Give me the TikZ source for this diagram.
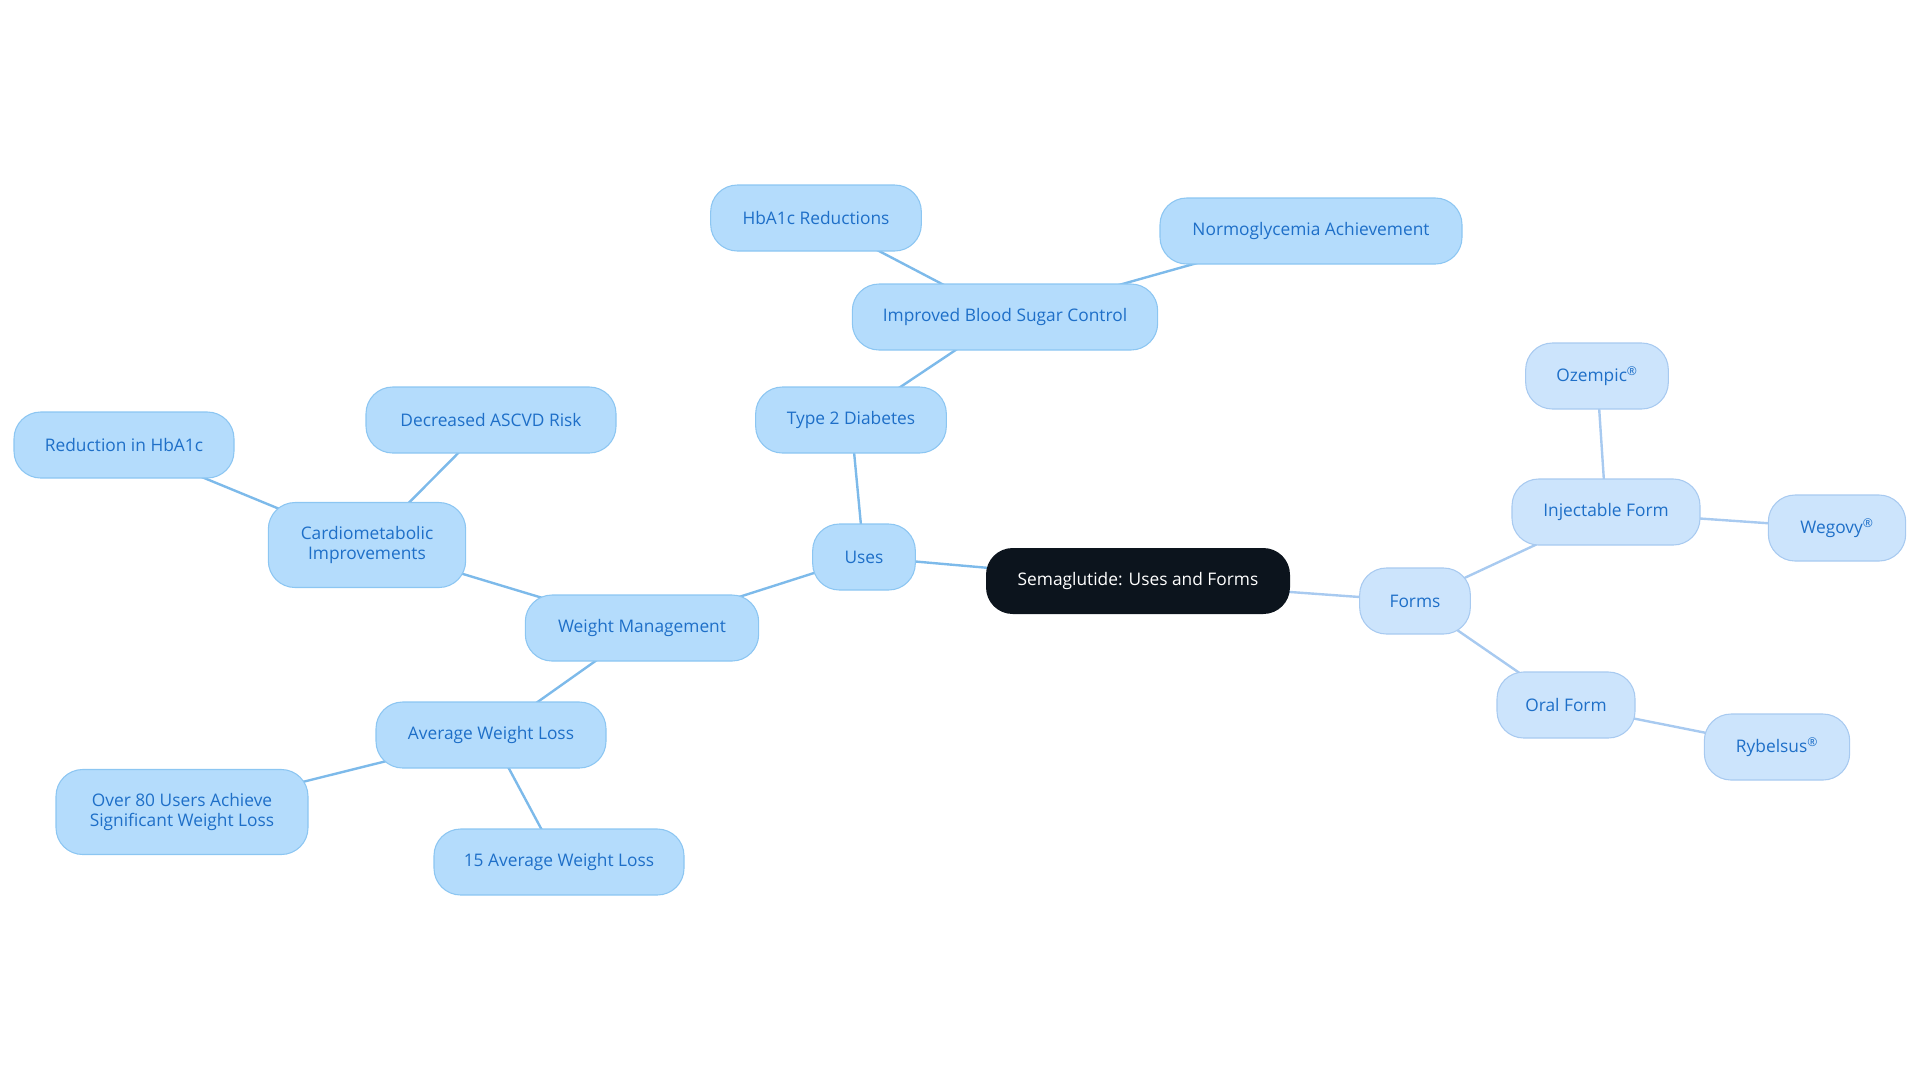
\documentclass[tikz,border=0pt]{standalone}
\usepackage{fontspec}
\setmainfont{Open Sans}
\usetikzlibrary{backgrounds}

\definecolor{rootblack}{HTML}{0C141D}
\definecolor{usefill}{HTML}{B4DCFC}
\definecolor{usedraw}{HTML}{8CC6F2}
\definecolor{useline}{HTML}{7DBAEA}
\definecolor{formfill}{HTML}{CCE4FC}
\definecolor{formdraw}{HTML}{A8CAF0}
\definecolor{txtblue}{HTML}{1E6FC8}

\tikzset{
	base/.style={rectangle, rounded corners=20pt, minimum height=49.5pt, inner sep=0pt,
		align=center, text=txtblue, font=\fontsize{13}{15}\selectfont},
	rootnode/.style={base, fill=rootblack, text=white},
	usenode/.style={base, fill=usefill, draw=usedraw, line width=0.8pt},
	formnode/.style={base, fill=formfill, draw=formdraw, line width=0.8pt},
	tall/.style={minimum height=63.75pt},
	useedge/.style={draw=useline, line width=1.8pt},
	formedge/.style={draw=formdraw, line width=1.8pt}
}

\begin{document}
\begin{tikzpicture}[x=0.75pt, y=-0.75pt]
	\useasboundingbox (0,0) rectangle (1920,1083);
	% centre
	\node[rootnode, minimum width=228pt] (root) at (1138,581) {Semaglutide: Uses and Forms};
	% uses branch
	\node[usenode, minimum width=77pt] (uses) at (864,557) {Uses};
	\node[usenode, minimum width=143pt] (diab) at (851,420) {Type 2 Diabetes};
	\node[usenode, minimum width=229pt] (sugar) at (1005,317) {Improved Blood Sugar Control};
	\node[usenode, minimum width=158pt] (hbared) at (816,218) {HbA1c Reductions};
	\node[usenode, minimum width=226.5pt] (normo) at (1311,231) {Normoglycemia Achievement};
	\node[usenode, minimum width=175pt] (weight) at (642,628) {Weight Management};
	\node[usenode, tall, minimum width=148pt] (cardio) at (367,545) {Cardiometabolic\\Improvements};
	\node[usenode, minimum width=187.5pt] (ascvd) at (491,420) {Decreased ASCVD Risk};
	\node[usenode, minimum width=165pt] (hbaone) at (124,445) {Reduction in HbA1c};
	\node[usenode, minimum width=172.5pt] (avg) at (491,735) {Average Weight Loss};
	\node[usenode, tall, minimum width=189pt] (users) at (182,812) {Over 80 Users Achieve\\Significant Weight Loss};
	\node[usenode, minimum width=187.5pt] (fifteen) at (559,862) {15 Average Weight Loss};
	% forms branch
	\node[formnode, minimum width=83pt] (forms) at (1415,601) {Forms};
	\node[formnode, minimum width=141pt] (inject) at (1606,512) {Injectable Form};
	\node[formnode, minimum width=107pt] (ozempic) at (1597,376) {Ozempic\textsuperscript{®}};
	\node[formnode, minimum width=103pt] (wegovy) at (1837,528) {Wegovy\textsuperscript{®}};
	\node[formnode, minimum width=103.5pt] (oral) at (1566,705) {Oral Form};
	\node[formnode, minimum width=109pt] (rybelsus) at (1777,747) {Rybelsus\textsuperscript{®}};
	% connectors behind the nodes
	\begin{pgfonlayer}{background}
		\foreach \a/\b in {root/uses, uses/diab, diab/sugar, sugar/hbared, sugar/normo,
			uses/weight, weight/cardio, cardio/ascvd, cardio/hbaone,
			weight/avg, avg/users, avg/fifteen}
		{
			\draw[useedge] (\a.center) -- (\b.center);
		}
		\foreach \a/\b in {root/forms, forms/inject, inject/ozempic, inject/wegovy,
			forms/oral, oral/rybelsus}
		{
			\draw[formedge] (\a.center) -- (\b.center);
		}
	\end{pgfonlayer}
\end{tikzpicture}
\end{document}
